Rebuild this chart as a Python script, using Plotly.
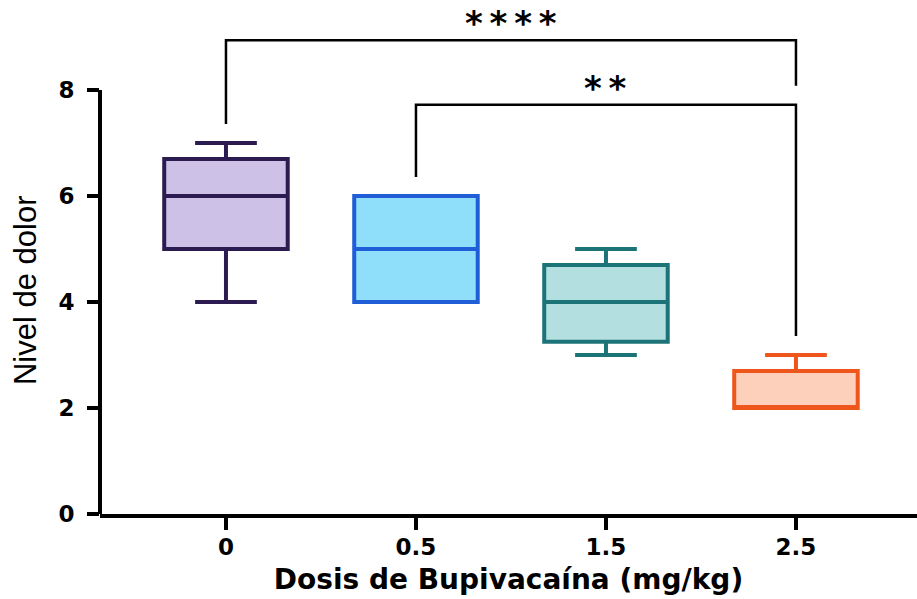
import plotly.graph_objects as go

# Pain level summary per bupivacaine dose (box statistics)
doses = ["0", "0.5", "1.5", "2.5"]
lower_fence = [4.0, 4.0, 3.0, 2.0]
q1 = [5.0, 4.0, 3.25, 2.0]
median = [6.0, 5.0, 4.0, 2.0]
q3 = [6.7, 6.0, 4.7, 2.7]
upper_fence = [7.0, 6.0, 5.0, 3.0]

line_colors = ["#2c1b50", "#1f5ed6", "#1c7479", "#ef561c"]
fill_colors = ["#cdc1e8", "#8fdffb", "#b4dfe0", "#fdd0bb"]

# Significance comparisons: (group a, group b, label)
comparisons = [("0", "2.5", "****"), ("0.5", "2.5", "**")]
bracket_heights = [8.94, 7.72]
leg_gap = 0.36

fig = go.Figure()
for i, d in enumerate(doses):
    fig.add_trace(go.Box(
        x=[d],
        q1=[q1[i]], median=[median[i]], q3=[q3[i]],
        lowerfence=[lower_fence[i]], upperfence=[upper_fence[i]],
        width=0.65,
        whiskerwidth=0.5,
        line=dict(color=line_colors[i], width=4),
        fillcolor=fill_colors[i],
        boxpoints=False,
        hoverinfo="skip",
        showlegend=False,
    ))

shapes = []
# y-axis line spans only 0..8
shapes.append(dict(type="line", xref="x domain", yref="y", x0=0, x1=0, y0=0, y1=8,
                   line=dict(color="black", width=4)))

annotations = []
for k, (a, b, label) in enumerate(comparisons):
    ia, ib = doses.index(a), doses.index(b)
    top = bracket_heights[k]
    left_bottom = upper_fence[ia] + leg_gap
    if k + 1 < len(comparisons):
        right_bottom = bracket_heights[k + 1] + leg_gap
    else:
        right_bottom = upper_fence[ib] + leg_gap
    shapes.append(dict(
        type="path", xref="x", yref="y",
        path=f"M {ia},{left_bottom} V {top} H {ib} V {right_bottom}",
        line=dict(color="black", width=2.5),
    ))
    annotations.append(dict(
        x=(ia + ib) / 2, y=top, xref="x", yref="y",
        text="\u2009".join(label), showarrow=False,
        yanchor="bottom", yshift=-5,
        font=dict(family="DejaVu Sans", size=34, color="black", weight=700),
    ))

# y-axis title, centred on the lower part of the axis
annotations.append(dict(
    text="Nivel de dolor", textangle=-90, showarrow=False,
    xref="paper", yref="paper", x=-0.092, y=0.444,
    xanchor="center", yanchor="middle",
    font=dict(family="Liberation Sans", size=31, color="black"),
))

tick_font = dict(family="DejaVu Sans", size=23, color="black", weight=700)

fig.update_layout(
    width=917, height=599,
    margin=dict(l=100, r=0, t=10, b=85),
    plot_bgcolor="white", paper_bgcolor="white",
    shapes=shapes, annotations=annotations,
    xaxis=dict(
        type="category", categoryorder="array", categoryarray=doses,
        range=[-0.663, 3.637],
        showline=True, linecolor="black", linewidth=4,
        ticks="outside", ticklen=12, tickwidth=4, tickcolor="black",
        tickfont=tick_font, ticklabelstandoff=-3,
        showgrid=False, zeroline=False,
        title=dict(text="Dosis de Bupivacaína (mg/kg)",
                   font=dict(family="DejaVu Sans", size=28, color="black", weight=700),
                   standoff=12),
        automargin=False,
    ),
    yaxis=dict(
        range=[0, 504 / 53],
        tickvals=[0, 2, 4, 6, 8],
        showline=False,
        ticks="outside", ticklen=12, tickwidth=4, tickcolor="black",
        tickfont=tick_font, ticklabelstandoff=8,
        showgrid=False, zeroline=False,
        automargin=False,
    ),
)

fig.write_html("out.html")
